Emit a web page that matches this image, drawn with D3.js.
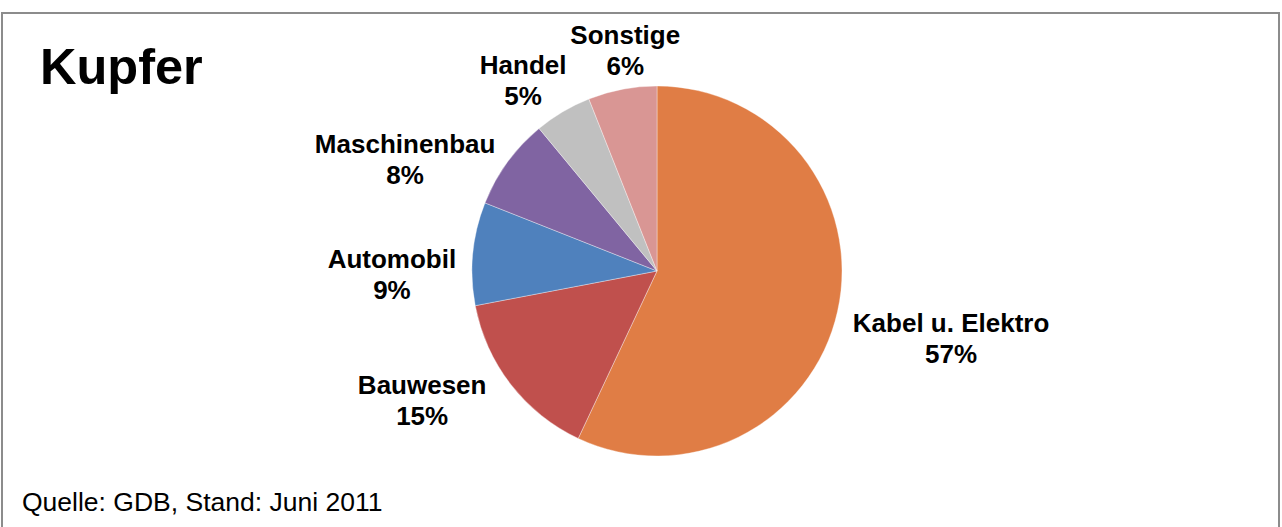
<!DOCTYPE html>
<html>
<head>
<meta charset="utf-8">
<script src="https://cdn.jsdelivr.net/npm/d3@7"></script>
<style>
  body { margin: 0; background: #fff; }
  svg { display: block; }
</style>
</head>
<body>
<div id="chart"></div>
<script>
// Data
const categories = ["Kabel u. Elektro", "Bauwesen", "Automobil", "Maschinenbau", "Handel", "Sonstige"];
const shares = [57, 15, 9, 8, 5, 6];
const sliceColors = ["#E07D45", "#C0504D", "#4F81BD", "#8064A2", "#C0C0C0", "#D99694"];
const chartTitle = "Kupfer";
const sourceNote = "Quelle: GDB, Stand: Juni 2011";

// Manual label tweaks (like dragged labels in the original)
const labelNudge = [[3, 18], [-26, -9], [-2, 24], [-17, 20], [-10, 3], [16, 0]];

const width = 1282;
const height = 527;
const cx = 657, cy = 271, radius = 185;
const labelGap = 15;
const lineStep = 31;

const svg = d3
  .select("#chart")
  .append("svg")
  .attr("width", width)
  .attr("height", height)
  .style("font-family", "'Liberation Sans', Arial, sans-serif");

// Frame (bottom edge runs off the picture)
svg.append("rect")
  .attr("x", 2)
  .attr("y", 13)
  .attr("width", width - 5)
  .attr("height", height + 20)
  .attr("fill", "#fff")
  .attr("stroke", "#8c8c8c")
  .attr("stroke-width", 2);

svg.append("text")
  .attr("x", 40)
  .attr("y", 84)
  .attr("font-size", 50.5)
  .attr("font-weight", "bold")
  .attr("fill", "#000")
  .text(chartTitle);

svg.append("text")
  .attr("x", 22)
  .attr("y", 511)
  .attr("font-size", 26.5)
  .attr("fill", "#000")
  .text(sourceNote);

const data = categories.map((c, i) => ({ name: c, value: shares[i], color: sliceColors[i], i }));

const pie = d3.pie().sort(null).value((d) => d.value);
const arc = d3.arc().innerRadius(0).outerRadius(radius);
const arcs = pie(data);

const g = svg.append("g").attr("transform", `translate(${cx},${cy})`);

g.selectAll("path")
  .data(arcs)
  .enter()
  .append("path")
  .attr("d", arc)
  .attr("fill", (d) => d.data.color)
  .attr("stroke", "#fff")
  .attr("stroke-width", 0.6)
  .attr("stroke-opacity", 0.6);

// Labels: two lines, name + percent
const labels = g.selectAll("text.lbl")
  .data(arcs)
  .enter()
  .append("text")
  .attr("class", "lbl")
  .attr("text-anchor", "middle")
  .attr("font-size", 26)
  .attr("font-weight", "bold")
  .attr("fill", "#000");

labels.append("tspan").attr("class", "l1").text((d) => d.data.name);
labels.append("tspan").attr("class", "l2").text((d) => d.data.value + "%");

labels.each(function (d) {
  const t = d3.select(this);
  const w = Math.max(
    t.select(".l1").node().getComputedTextLength(),
    t.select(".l2").node().getComputedTextLength()
  );
  const a = (d.startAngle + d.endAngle) / 2;
  const s = Math.sin(a), c = Math.cos(a);
  const r = radius + labelGap;
  const nudge = labelNudge[d.data.i];
  const mx = r * s + (w / 2) * s + nudge[0];
  const my = -r * c - 25 * c + nudge[1];
  t.select(".l1").attr("x", mx).attr("y", my - 6);
  t.select(".l2").attr("x", mx).attr("y", my - 6 + lineStep);
});
</script>
</body>
</html>
